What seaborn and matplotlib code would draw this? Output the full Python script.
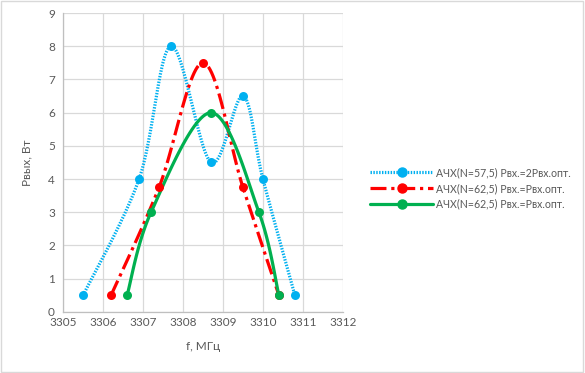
import numpy as np
import pandas as pd
import matplotlib
matplotlib.use('Agg')
import matplotlib.pyplot as plt
import seaborn as sns
from matplotlib.lines import Line2D
from matplotlib.patches import Rectangle

# data
f_blue = [3305.5, 3306.9, 3307.7, 3308.7, 3309.5, 3310.0, 3310.8]
p_blue = [0.5, 4.0, 8.0, 4.5, 6.5, 4.0, 0.5]
f_red = [3306.2, 3307.4, 3308.5, 3309.5, 3310.4]
p_red = [0.5, 3.75, 7.5, 3.75, 0.5]
f_green = [3306.6, 3307.2, 3308.7, 3309.9, 3310.4]
p_green = [0.5, 3.0, 6.0, 3.0, 0.5]
labels = ['АЧХ(N=57,5) Pвх.=2Pвх.опт.',
          'АЧХ(N=62,5) Pвх.=Pвх.опт.',
          'АЧХ(N=62,5) Pвх.=Pвх.опт.']
x_ticks = [3305, 3306, 3307, 3308, 3309, 3310, 3311, 3312]
y_ticks = list(range(0, 10))

colors = ['#00B0F0', '#FF0000', '#00B050']
styles = [(0, (0.45, 0.45)), (0, (5, 1.5, 1, 1.5)), '-']

def smooth(xs, ys, n=30):
    # Excel-like smoothed line (Catmull-Rom bezier through the points)
    pts = np.column_stack([xs, ys]).astype(float)
    pts = np.vstack([pts[0], pts, pts[-1]])
    out = []
    for i in range(1, len(pts) - 2):
        p0, p1, p2, p3 = pts[i - 1], pts[i], pts[i + 1], pts[i + 2]
        c1 = p1 + (p2 - p0) / 6
        c2 = p2 - (p3 - p1) / 6
        t = np.linspace(0, 1, n)[:, None]
        seg = ((1 - t) ** 3) * p1 + 3 * ((1 - t) ** 2) * t * c1 + 3 * (1 - t) * t ** 2 * c2 + t ** 3 * p2
        out.append(seg if i == 1 else seg[1:])
    s = np.vstack(out)
    return s[:, 0], s[:, 1]

sns.set_style('white')
plt.rcParams['font.family'] = ['Lato', 'DejaVu Sans']
plt.rcParams['text.color'] = '#595959'

fig = plt.figure(figsize=(5.85, 3.73), dpi=100)
ax = fig.add_axes([0.108, 0.164, 0.478, 0.801])

series = [(f_blue, p_blue), (f_red, p_red), (f_green, p_green)]
handles = []
for i, (fx, py) in enumerate(series):
    sx, sy = smooth(fx, py)
    ax.plot(sx, sy, color=colors[i], lw=2.3, ls=styles[i], zorder=3)
    df = pd.DataFrame({'f': fx, 'p': py})
    sns.scatterplot(data=df, x='f', y='p', color=colors[i], s=42,
                    edgecolor=colors[i], linewidth=0, ax=ax, zorder=4)
    handles.append(Line2D([0], [0], color=colors[i], lw=2.3, ls=styles[i],
                          marker='o', markersize=6.5))

ax.set_xlim(3305, 3312)
ax.set_ylim(0, 9)
ax.set_xticks(x_ticks)
ax.set_yticks(y_ticks)
ax.grid(True, color='#D9D9D9', lw=0.9)
ax.set_axisbelow(True)
for s in ['top', 'right']:
    ax.spines[s].set_visible(False)
for s in ['left', 'bottom']:
    ax.spines[s].set_color('#BFBFBF')
    ax.spines[s].set_linewidth(0.9)
ax.tick_params(axis='both', labelsize=8.5, colors='#595959', length=0)
ax.tick_params(axis='x', pad=4)
ax.tick_params(axis='y', pad=6)
ax.set_xlabel('f, МГц', fontsize=8.5, color='#595959', labelpad=9)
ax.set_ylabel('Pвых, Вт', fontsize=8.5, color='#595959', labelpad=11)

fig.legend(handles, labels, loc='center left', bbox_to_anchor=(0.625, 0.495),
           frameon=False, fontsize=7.6, handlelength=6.0, handletextpad=0.3,
           labelspacing=0.45, labelcolor='#595959', borderaxespad=0)

fig.patches.append(Rectangle((0.002, 0.003), 0.995, 0.994, transform=fig.transFigure,
                             fill=False, edgecolor='#D9D9D9', lw=1))

fig.savefig('out.png', dpi=100)
